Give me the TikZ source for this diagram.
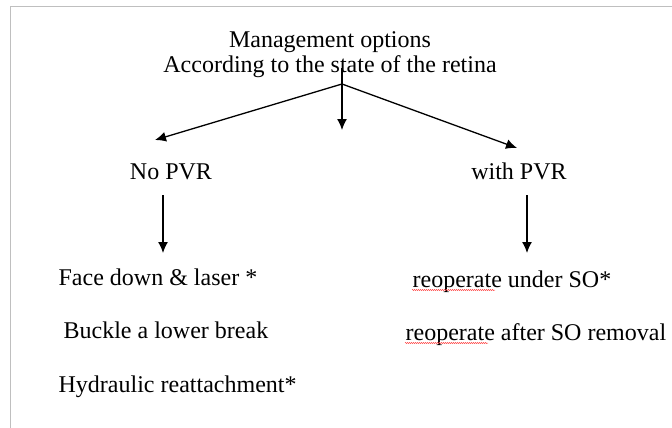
\documentclass[tikz,border=0pt]{standalone}
\usepackage{fontspec}
\setmainfont{Liberation Serif}
\usepackage{tikz}
\usetikzlibrary{arrows.meta,positioning,decorations.pathmorphing}

\begin{document}
\begin{tikzpicture}[x=1pt,y=-1pt,>={Latex[length=11pt,width=10pt]},line width=1.3pt]
  \tikzstyle{every node}=[inner sep=0pt,font=\fontsize{24}{28}\selectfont]
  \tikzstyle{item}=[anchor=base west]
  \tikzstyle{head}=[anchor=base]
  \tikzstyle{frame}=[draw=black!25,line width=1pt]
  \tikzstyle{spell}=[draw=red!70,line width=0.5pt,
  		    decorate,decoration={snake,amplitude=0.6pt,segment length=2pt}]

  \useasboundingbox (0,0) rectangle (672,428);
  \draw [frame] (672,6.5) -- (10.5,6.5) -- (10.5,428);

  % title
  \node [head] (title1) at (330,48) {Management options};
  \node [head] (title2) at (330,73) {According to the state of the retina};

  % fork
  \coordinate (top) at (342,68);
  \coordinate (fork) at (342,84);
  \coordinate (mid) at (342,130);
  \coordinate (lefttip) at (155,140);
  \coordinate (righttip) at (517,148);
  \draw [->] (top) -- (mid);
  \draw [->] (fork) -- (lefttip);
  \draw [->] (fork) -- (righttip);

  % branches
  \node [head] (nopvr) at (171,179) {No PVR};
  \node [head] (withpvr) at (519,179) {with PVR};
  \draw [->] (163,195) coordinate (n1) -- (163,253) coordinate (n2);
  \draw [->] (527,195) coordinate (w1) -- (527,253) coordinate (w2);

  % no PVR options
  \node [item] (face) at (58,285) {Face down \& laser *};
  \node [item] (buckle) at (63,338) {Buckle a lower break};
  \node [item] (hydro) at (58,392) {Hydraulic reattachment*};

  % with PVR options
  \node [item] (under) at (412,287) {reoperate under SO*};
  \node [item] (after) at (405,340) {reoperate after SO removal};
  \path [spell] ([yshift=-3pt]under.base west) -- ++(83,0);
  \path [spell] ([yshift=-3pt]after.base west) -- ++(83,0);
\end{tikzpicture}
\end{document}
